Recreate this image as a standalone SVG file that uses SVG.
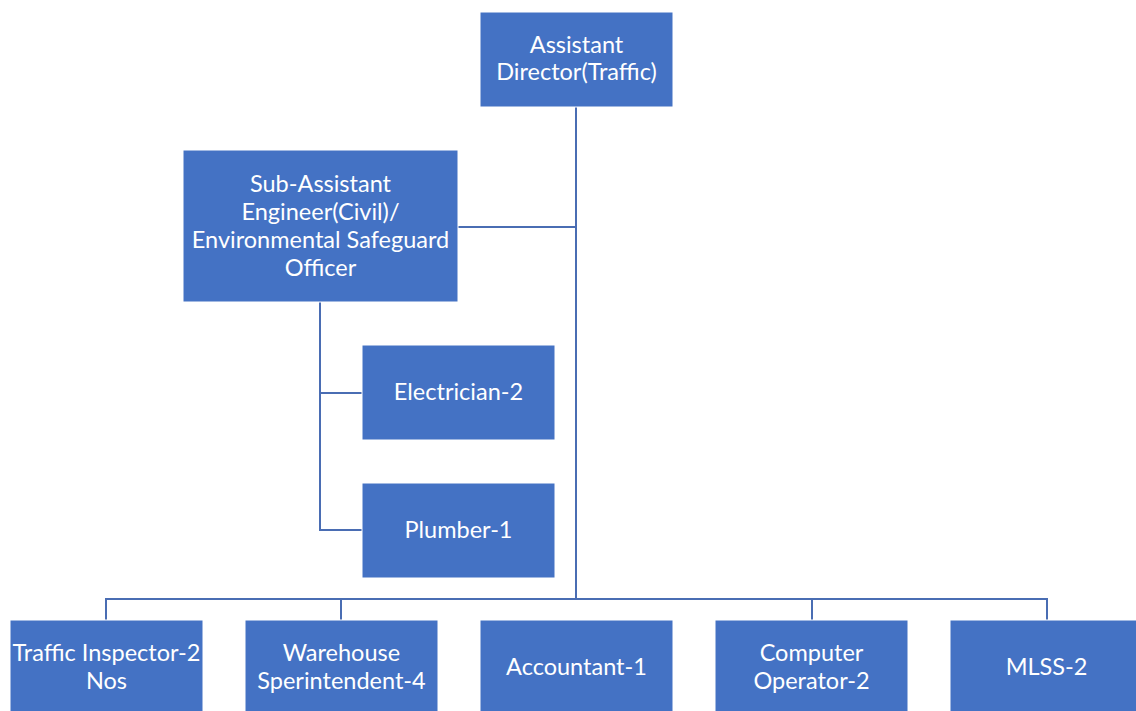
<svg xmlns="http://www.w3.org/2000/svg" width="1136" height="711" viewBox="0 0 1136 711">
<style>
.box{fill:#4472C4;stroke:#ffffff;stroke-width:1}
.t{font-family:Lato,"Open Sans","Liberation Sans",sans-serif;font-size:23.5px;fill:#ffffff;text-anchor:middle}
.c{fill:none;stroke:#4A6DB3;stroke-width:2}
</style>
<rect width="1136" height="711" fill="#ffffff"/>
<g id="connectors">
<path class="c" d="M576,107 V599"/>
<path class="c" d="M458,227 H576"/>
<path class="c" d="M320,302 V530 H362 M320,393 H362"/>
<path class="c" d="M106,620 V599 H1047 V620 M341,599 V620 M812,599 V620"/>
</g>
<g id="assistant-director">
<rect class="box" x="480" y="12" width="193" height="95"/>
<text class="t" x="576.5" y="53">Assistant</text>
<text class="t" x="576.5" y="80">Director(Traffic)</text>
</g>
<g id="sub-assistant-engineer">
<rect class="box" x="183" y="150" width="275" height="152"/>
<text class="t" x="320.5" y="192">Sub-Assistant</text>
<text class="t" x="320.5" y="220">Engineer(Civil)/</text>
<text class="t" x="320.5" y="248">Environmental Safeguard</text>
<text class="t" x="320.5" y="276">Officer</text>
</g>
<g id="electrician">
<rect class="box" x="362" y="345" width="193" height="95"/>
<text class="t" x="458.5" y="400">Electrician-2</text>
</g>
<g id="plumber">
<rect class="box" x="362" y="483" width="193" height="95"/>
<text class="t" x="458.5" y="538">Plumber-1</text>
</g>
<g id="traffic-inspector">
<rect class="box" x="10" y="620" width="193" height="96"/>
<text class="t" x="106.5" y="661">Traffic Inspector-2</text>
<text class="t" x="106.5" y="689">Nos</text>
</g>
<g id="warehouse">
<rect class="box" x="245" y="620" width="193" height="96"/>
<text class="t" x="341.5" y="661">Warehouse</text>
<text class="t" x="341.5" y="689">Sperintendent-4</text>
</g>
<g id="accountant">
<rect class="box" x="480" y="620" width="193" height="96"/>
<text class="t" x="576.5" y="675">Accountant-1</text>
</g>
<g id="computer-operator">
<rect class="box" x="715" y="620" width="193" height="96"/>
<text class="t" x="811.5" y="661">Computer</text>
<text class="t" x="811.5" y="689">Operator-2</text>
</g>
<g id="mlss">
<rect class="box" x="950" y="620" width="193" height="96"/>
<text class="t" x="1046.5" y="675">MLSS-2</text>
</g>
</svg>
